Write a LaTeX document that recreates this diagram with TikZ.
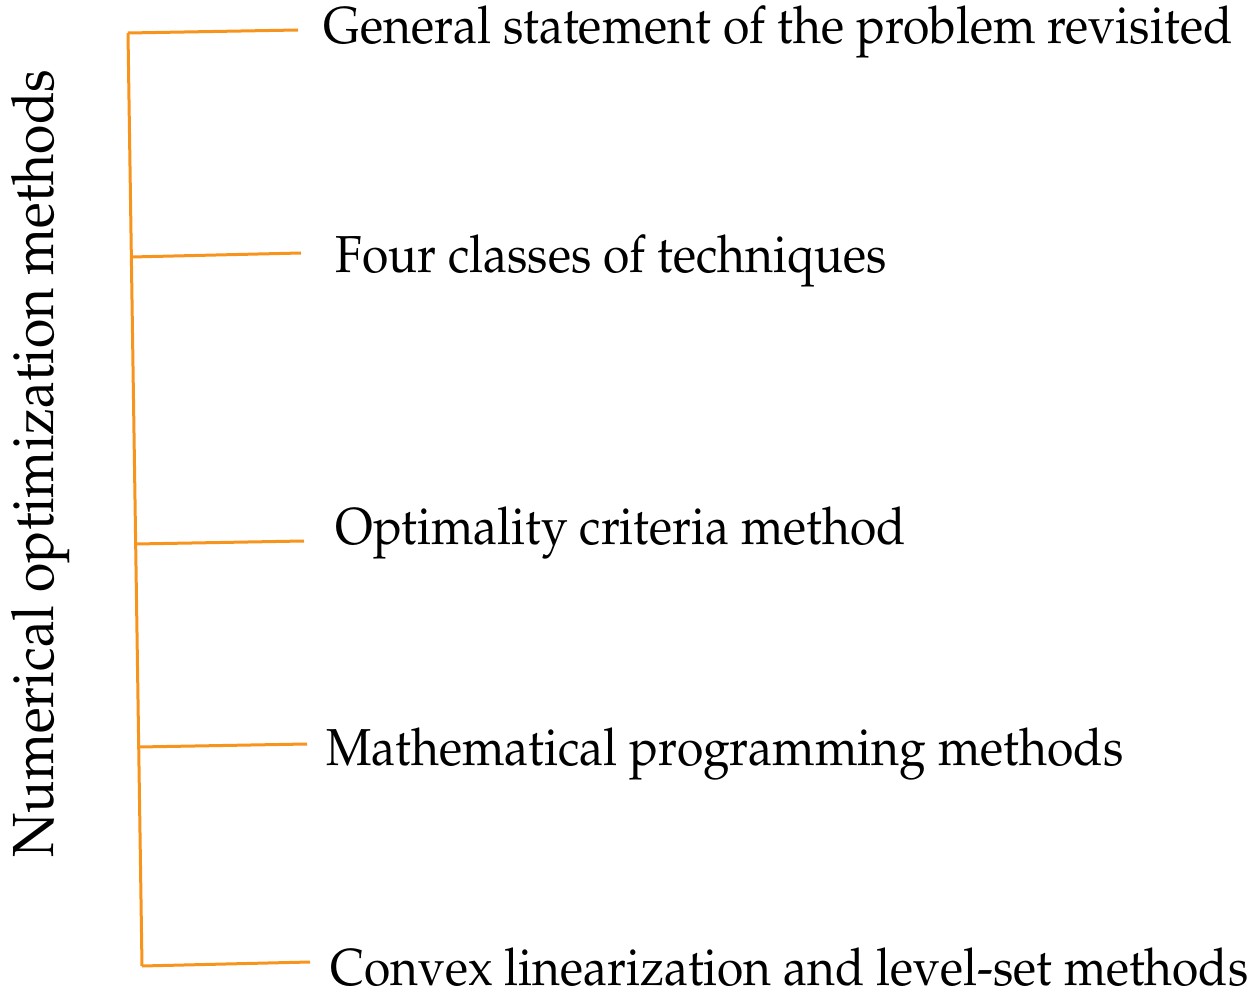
\documentclass[tikz,border=0pt]{standalone}
\usepackage[T1]{fontenc}
\usepackage{mathpazo}
\usepackage{graphicx}
\definecolor{branch}{HTML}{F7941D}
\tikzset{
  branchline/.style={draw=branch, line width=1.5pt},
  item/.style={anchor=base west, inner sep=0pt, font=\fontsize{26}{30}\selectfont},
  title/.style={anchor=base west, inner sep=0pt, rotate=90, font=\fontsize{29}{34}\selectfont}
}
\newcommand{\fitw}[2]{\resizebox{#1}{\height}{#2}}
\begin{document}
\begin{tikzpicture}[x=0.5pt, y=-0.5pt]
  \useasboundingbox (0,0) rectangle (1254,989);
  % spine and branch points
  \coordinate (top) at (128,33);
  \coordinate (bot) at (142,966);
  \coordinate (b2) at (131.4,257);
  \coordinate (b3) at (135.7,544);
  \coordinate (b4) at (138.7,747);
  % free ends of the branches
  \coordinate (e1) at (298,30);
  \coordinate (e2) at (301,253);
  \coordinate (e3) at (304,541);
  \coordinate (e4) at (307,744);
  \coordinate (e5) at (310,962);
  \draw[branchline] (top) -- (bot);
  \draw[branchline] (top) -- (e1);
  \draw[branchline] (b2) -- (e2);
  \draw[branchline] (b3) -- (e3);
  \draw[branchline] (b4) -- (e4);
  \draw[branchline] (bot) -- (e5);
  % labels
  \node[title] (t) at (54,858) {\fitw{394pt}{Numerical optimization methods}};
  \node[item] (n1) at (323,44) {\fitw{454.5pt}{General statement of the problem revisited}};
  \node[item] (n2) at (335,273) {\fitw{275.5pt}{Four classes of techniques}};
  \node[item] (n3) at (335,545) {\fitw{285pt}{Optimality criteria method}};
  \node[item] (n4) at (326,765) {\fitw{398.5pt}{Mathematical programming methods}};
  \node[item] (n5) at (330,985) {\fitw{459pt}{Convex linearization and level-set methods}};
\end{tikzpicture}
\end{document}
